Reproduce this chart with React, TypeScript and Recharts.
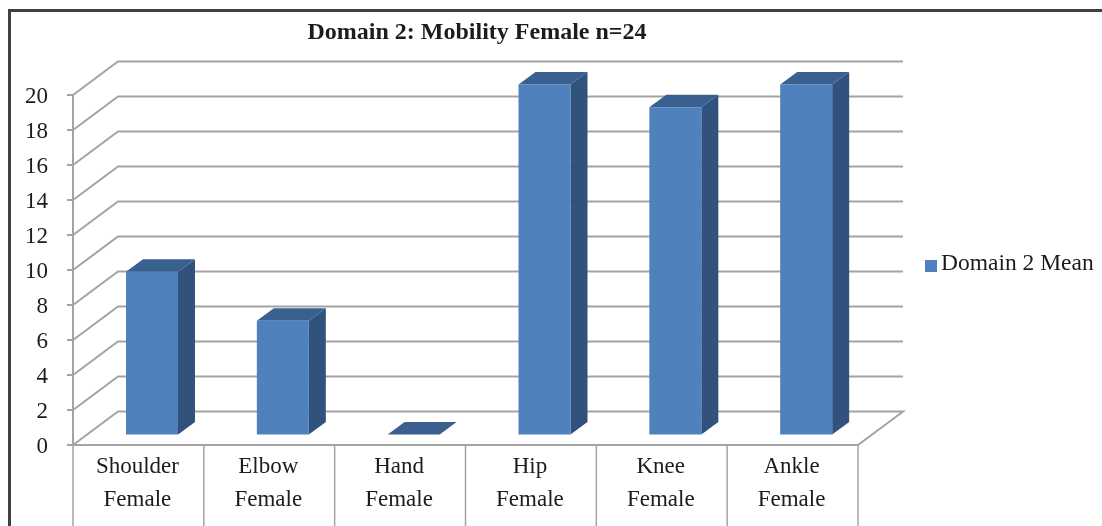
import { BarChart, Bar, XAxis, YAxis, CartesianGrid, Legend } from 'recharts';

const CATEGORIES = ['Shoulder Female', 'Elbow Female', 'Hand Female', 'Hip Female', 'Knee Female', 'Ankle Female'];
const DOMAIN_2_MEAN = [9.3, 6.5, 0, 20, 18.7, 20];
const Y_TICKS = [0, 2, 4, 6, 8, 10, 12, 14, 16, 18, 20];

const data = CATEGORIES.map((name, i) => ({ name, value: DOMAIN_2_MEAN[i] }));

const SERIF = '"Liberation Serif", serif';
const GRID = '#a3a3a3';
const INK = '#1c1c1c';

const PLOT_LEFT = 73;
const PLOT_RIGHT = 858;
const PLOT_BOTTOM = 445;
const BAND = (PLOT_RIGHT - PLOT_LEFT) / CATEGORIES.length;

// depth of the box the bars stand in
const WALL_DX = 45;
const WALL_DY = 33.5;

function gridLine(props: any) {
  const { x1, x2, y1, key } = props;
  const back = y1 - WALL_DY;
  const isFloor = Math.abs(y1 - PLOT_BOTTOM) < 1;
  const pts = [`${x1},${y1}`, `${x1 + WALL_DX},${back}`, `${x2 + WALL_DX},${back}`];
  if (isFloor) pts.push(`${x2},${y1}`);
  return <polyline key={key} points={pts.join(' ')} fill="none" stroke={GRID} strokeWidth={2} />;
}

// front, side and top faces; the bar stands a bit inside the floor
function Bar3D(props: any) {
  const { x, y, width, height } = props;
  const dx = 14;
  const lift = 10.5;
  const dTop = 17;
  const dRise = 12.5;
  const l = x + dx;
  const r = l + width;
  const t = y - lift;
  const b = t + height;
  return (
    <g>
      <polygon points={`${r},${b} ${r + dTop},${b - dRise} ${r + dTop},${t - dRise} ${r},${t}`} fill="#31527c" />
      <polygon points={`${l},${t} ${l + dTop},${t - dRise} ${r + dTop},${t - dRise} ${r},${t}`} fill="#3a6090" />
      <rect x={l} y={t} width={width} height={height} fill="#4f81bd" />
    </g>
  );
}

function CategoryTick(props: any) {
  const { x, y, payload, index } = props;
  const [first, second] = String(payload.value).split(' ');
  const left = x - BAND / 2;
  const right = x + BAND / 2;
  const top = y - 8;
  return (
    <g>
      <line x1={left} y1={top} x2={left} y2={526} stroke={GRID} strokeWidth={1.5} />
      {index === CATEGORIES.length - 1 && <line x1={right} y1={top} x2={right} y2={526} stroke={GRID} strokeWidth={1.5} />}
      <text x={x - 1} y={y + 20} textAnchor="middle" fontFamily={SERIF} fontSize={23} fill={INK}>
        {first}
      </text>
      <text x={x - 1} y={y + 53} textAnchor="middle" fontFamily={SERIF} fontSize={23} fill={INK}>
        {second}
      </text>
    </g>
  );
}

export default function App() {
  return (
    <div style={{ position: 'absolute', left: 0, top: 0, width: 1102, height: 526, overflow: 'hidden', background: '#fff', filter: 'blur(0.5px)' }}>
      <div style={{ position: 'absolute', left: 8, top: 9, width: 1094, height: 517, boxSizing: 'border-box', borderLeft: '3px solid #404040', borderTop: '3px solid #404040' }} />
      <div style={{ position: 'absolute', left: 0, top: 16, width: 954, textAlign: 'center', fontFamily: SERIF, fontWeight: 'bold', fontSize: 24, lineHeight: '30px', color: INK }}>
        Domain 2: Mobility Female n=24
      </div>
      <BarChart
        width={1102}
        height={526}
        data={data}
        barSize={52}
        margin={{ top: 95, right: 67, bottom: 0, left: 28 }}
        style={{ position: 'absolute', left: 0, top: 0 }}
      >
        <CartesianGrid vertical={false} horizontal={gridLine} />
        <XAxis
          dataKey="name"
          height={81}
          interval={0}
          tickLine={false}
          axisLine={{ stroke: GRID, strokeWidth: 2 }}
          tick={CategoryTick}
        />
        <YAxis
          width={45}
          domain={[0, 20]}
          ticks={Y_TICKS}
          interval={0}
          tickSize={6}
          tickMargin={19}
          tickLine={{ stroke: GRID, strokeWidth: 2 }}
          axisLine={{ stroke: GRID, strokeWidth: 2 }}
          tick={{ fontFamily: SERIF, fontSize: 23, fill: INK }}
        />
        <Legend
          layout="vertical"
          align="right"
          verticalAlign="top"
          iconType="square"
          iconSize={12}
          wrapperStyle={{ left: 925, top: 249, width: 177, right: 'auto' }}
          formatter={(val) => (
            <span style={{ fontFamily: SERIF, fontSize: 23.5, color: INK, whiteSpace: 'nowrap' }}>{val}</span>
          )}
        />
        <Bar dataKey="value" name="Domain 2 Mean" fill="#4f81bd" shape={Bar3D} isAnimationActive={false} />
      </BarChart>
    </div>
  );
}
